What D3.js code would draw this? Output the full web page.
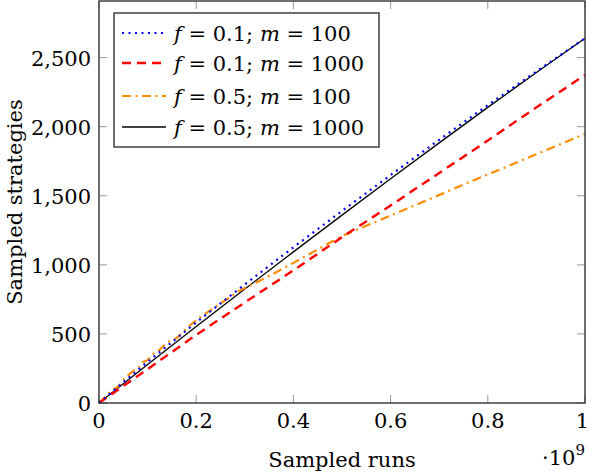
<!DOCTYPE html>
<html lang="en">
    <head>
        <meta charset="utf-8">
        <title>Sampled strategies</title>
        <script type="text/javascript" src="https://d3js.org/d3.v7.min.js"></script>
        <style>
            body { margin: 0; background: #fff; }
            .series { fill: none; }
        </style>
    </head>
    <body>
        <svg id="chart" width="590" height="472" font-family="'DejaVu Serif', 'Liberation Serif', serif"></svg>
    </body>
    <script>
        // sampled runs (in units of 1e9)
        let runsBlack = [0, 0.1, 0.2, 0.3, 0.4, 0.5, 0.6, 0.7, 0.8, 0.9, 1];
        let stratBlack = [0, 278, 553, 825, 1094, 1360, 1623, 1883, 2140, 2392, 2640];

        let runsBlue = [0, 0.05, 0.1, 0.2, 0.3, 0.4, 0.5, 0.6, 0.7, 0.8, 0.9, 1];
        let stratBlue = [0, 150, 298, 583, 858, 1127, 1390, 1650, 1905, 2156, 2400, 2640];

        let runsRed = [0, 0.1, 0.2, 0.3, 0.4, 0.5, 0.6, 0.7, 0.8, 0.9, 1];
        let stratRed = [0, 245, 493, 728, 960, 1200, 1430, 1665, 1900, 2140, 2374];

        let runsOrange = [0, 0.027, 0.04, 0.053, 0.07, 0.08, 0.09, 0.1, 0.115, 0.125, 0.14, 0.16,
                          0.187, 0.214, 0.25, 0.29, 0.345, 0.42, 0.502, 0.558, 0.65, 0.763, 0.88, 1];
        let stratOrange = [0, 94, 120, 180, 231, 250, 296, 310, 368, 385, 440, 470,
                           563, 635, 720, 815, 909, 1053, 1212, 1295, 1431, 1600, 1771, 1948];

        let xTicks = [0, 0.2, 0.4, 0.6, 0.8, 1];
        let yTicks = [0, 500, 1000, 1500, 2000, 2500];
        let legendLabels = [["0.1", "100"], ["0.1", "1000"], ["0.5", "100"], ["0.5", "1000"]];

        let svg = d3.select("#chart");
        let margin = {left: 99, right: 5, top: 1, bottom: 69};
        let width = 590 - margin.left - margin.right;
        let height = 472 - margin.top - margin.bottom;

        let xScale = d3.scaleLinear().domain([0, 1]).range([0, width]);
        let yScale = d3.scaleLinear().domain([0, 2910]).range([height, 0]);

        let g = svg.append("g")
            .attr("transform", "translate(" + margin.left + "," + margin.top + ")");

        // tick marks inside, on all four sides
        let tickLen = 8;
        let tickColor = "#999";
        xTicks.forEach(t => {
            g.append("line").attr("x1", xScale(t)).attr("x2", xScale(t))
                .attr("y1", height).attr("y2", height - tickLen)
                .attr("stroke", tickColor).attr("stroke-width", 1);
            g.append("line").attr("x1", xScale(t)).attr("x2", xScale(t))
                .attr("y1", 0).attr("y2", tickLen)
                .attr("stroke", tickColor).attr("stroke-width", 1);
        });
        yTicks.forEach(t => {
            g.append("line").attr("x1", 0).attr("x2", tickLen)
                .attr("y1", yScale(t)).attr("y2", yScale(t))
                .attr("stroke", tickColor).attr("stroke-width", 1);
            g.append("line").attr("x1", width).attr("x2", width - tickLen)
                .attr("y1", yScale(t)).attr("y2", yScale(t))
                .attr("stroke", tickColor).attr("stroke-width", 1);
        });

        // tick labels
        let fmtY = d3.format(",");
        g.selectAll(".ylab").data(yTicks).enter().append("text")
            .attr("x", -8).attr("y", d => yScale(d) + 8)
            .attr("text-anchor", "end").attr("font-size", 21)
            .text(d => fmtY(d));
        // last label would hang over the page edge, so it is right-aligned
        g.selectAll(".xlab").data(xTicks).enter().append("text")
            .attr("x", d => d === 1 ? xScale(d) + 4 : xScale(d)).attr("y", height + 25)
            .attr("text-anchor", d => d === 1 ? "end" : "middle").attr("font-size", 21)
            .text(d => d);

        // series
        let series = [
            {x: runsBlue, y: stratBlue, color: "#0000ff", dash: "2,4.5", w: 2.2},
            {x: runsRed, y: stratRed, color: "#ff0000", dash: "9,6", w: 2.4},
            {x: runsOrange, y: stratOrange, color: "#ff8c00", dash: "9,4.5,2,4.5", w: 2.2},
            {x: runsBlack, y: stratBlack, color: "#000000", dash: null, w: 1.3}
        ];
        let line = d3.line().x(d => xScale(d[0])).y(d => yScale(d[1]));
        let plot = g.append("g");
        series.slice().reverse().forEach(s => {
            plot.append("path")
                .datum(d3.zip(s.x, s.y))
                .attr("class", "series")
                .attr("stroke", s.color)
                .attr("stroke-width", s.w)
                .attr("stroke-dasharray", s.dash)
                .attr("d", line);
        });

        // frame
        g.append("rect").attr("x", 0).attr("y", 0)
            .attr("width", width).attr("height", height)
            .attr("fill", "none").attr("stroke", "#333").attr("stroke-width", 1.4);

        // legend
        let lg = svg.append("g").attr("transform", "translate(114,13)");
        lg.append("rect").attr("width", 265).attr("height", 134)
            .attr("fill", "#fff").attr("stroke", "#333").attr("stroke-width", 1.4);
        let rowY = [20, 50, 83, 114];
        series.forEach((s, i) => {
            lg.append("line").attr("x1", 8).attr("x2", 52)
                .attr("y1", rowY[i]).attr("y2", rowY[i])
                .attr("stroke", s.color).attr("stroke-width", s.w)
                .attr("stroke-dasharray", s.dash);
            let t = lg.append("text").attr("x", 60).attr("y", rowY[i] + 8)
                .attr("font-size", 21);
            t.append("tspan").attr("font-style", "italic").text("f");
            t.append("tspan").text(" = " + legendLabels[i][0] + "; ");
            t.append("tspan").attr("font-style", "italic").text("m");
            t.append("tspan").text(" = " + legendLabels[i][1]);
        });

        // axis labels
        svg.append("text").attr("x", margin.left + width / 2).attr("y", 467)
            .attr("text-anchor", "middle").attr("font-size", 21).text("Sampled runs");
        svg.append("text")
            .attr("transform", "translate(22," + (margin.top + height / 2) + ") rotate(-90)")
            .attr("text-anchor", "middle").attr("font-size", 21).text("Sampled strategies");
        let ex = svg.append("text").attr("x", 585).attr("y", 465)
            .attr("text-anchor", "end").attr("font-size", 21);
        ex.append("tspan").text("·10");
        ex.append("tspan").attr("font-size", 15).attr("dy", -10).text("9");
    </script>
</html>
